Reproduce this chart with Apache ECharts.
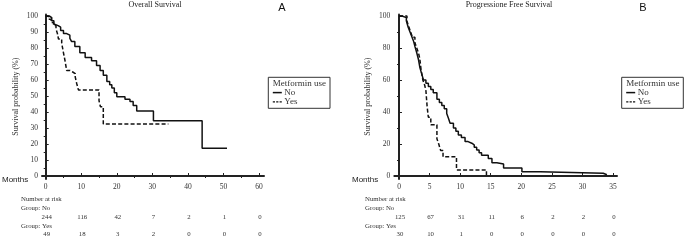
<!DOCTYPE html>
<html>
<head>
<meta charset="utf-8">
<script src="https://cdn.jsdelivr.net/npm/echarts@6/dist/echarts.min.js"></script>
<style>
html, body { margin: 0; background: #fff; }
#main { width: 685px; height: 240px; }
</style>
</head>
<body>
<div id="main"></div>
<script>
// Overall survival (panel A), Kaplan-Meier steps: month of drop / survival after it
var osMonthsNo = [0, 1, 1.7, 2.3, 2.8, 3.5, 4.2, 5, 5.9, 6.8, 7.3, 8.2, 9.6, 11.1, 12.9, 14.3, 15.3, 16.2, 17.2, 18, 18.6, 19.3, 20, 22.3, 23.7, 24.6, 25.6, 30.3, 44, 51];
var osSurvNo   = [100, 99, 97, 95, 94, 93, 91, 89, 88, 86, 84, 81, 77, 74, 72, 69, 66, 63, 59, 57, 55, 52, 49.5, 48, 46.5, 44, 40.6, 34.6, 17.3, 17.3];
var osMonthsYes = [0, 0.8, 1.5, 2.2, 2.9, 3.3, 3.6, 4.5, 5, 5.4, 5.9, 6.8, 7.6, 8.3, 8.7, 9.2, 15, 15.4, 16.2, 34.5];
var osSurvYes   = [100, 98, 96, 94, 92, 89, 85.6, 83, 77, 72.5, 66, 65, 64, 62, 58, 53.8, 47, 43.3, 32.5, 32.5];

// Progression free survival (panel B)
var pfsMonthsNo = [0, 0.5, 1.2, 1.5, 1.8, 2.1, 2.4, 2.6, 2.9, 3.2, 3.4, 3.7, 4, 4.4, 4.8, 5.2, 5.6, 6.2, 6.6, 7, 7.4, 7.8, 8.1, 8.35, 8.9, 9.3, 9.7, 10.2, 10.8, 11.3, 11.9, 12.3, 12.7, 13.1, 13.5, 14.6, 15.2, 16, 17.1, 20.1, 23.1, 33.4, 34];
var pfsSurvNo   = [100, 99, 97, 93, 90, 87, 84, 81, 77, 72.5, 68, 64, 60, 58, 56, 54, 52, 48, 46, 44, 42, 39, 36, 33, 30, 28, 25.6, 24, 21.5, 20.5, 19.4, 18, 16.3, 14.5, 13, 11, 8.3, 7.5, 5, 2.7, 1.7, 0.8, 0.8];
var pfsMonthsYes = [0, 1.3, 1.6, 1.9, 2.2, 2.6, 2.9, 3.2, 3.4, 3.6, 3.9, 4.2, 4.4, 4.6, 4.8, 5.2, 6.2, 6.5, 6.8, 7.2, 9.4, 14.3];
var pfsSurvYes   = [100, 96.7, 93.3, 90, 86.7, 83.3, 80, 76.7, 73.3, 66.7, 60, 56.7, 53.3, 43.3, 36.7, 32, 23.3, 20, 16, 12, 3.8, 0];

// axis ticks
var osTicksX = [0, 10, 20, 30, 40, 50, 60];
var osMinorX = [5, 15, 25, 35, 45, 55];
var osTicksY = [0, 10, 20, 30, 40, 50, 60, 70, 80, 90, 100];
var osMinorY = [5, 15, 25, 35, 45, 55, 65, 75, 85, 95];
var pfsTicksX = [0, 5, 10, 15, 20, 25, 30, 35];
var pfsTicksY = [0, 20, 40, 60, 80, 100];
var pfsMinorY = [10, 30, 50, 70, 90];

// number at risk
var osRiskNo  = [244, 116, 42, 7, 2, 1, 0];
var osRiskYes = [49, 18, 3, 2, 0, 0, 0];
var pfsRiskNo  = [125, 67, 31, 11, 6, 2, 2, 0];
var pfsRiskYes = [30, 10, 1, 0, 0, 0, 0, 0];

var serif = 'Liberation Serif';
var sans = 'Liberation Sans';
var ink = '#222';
var txt = '#333';

function pairs(t, s) {
    return t.map(function (v, i) { return [v, s[i]]; });
}

function xMain(grid, min, max, ticks) {
    return {
        gridIndex: grid, type: 'value', min: min, max: max,
        axisLine: { lineStyle: { color: ink, width: 2 } },
        axisTick: { inside: true, length: 3, customValues: ticks, lineStyle: { color: ink, width: 1 } },
        axisLabel: { customValues: ticks, fontFamily: serif, fontSize: 7.5, color: txt, margin: 4 },
        splitLine: { show: false }
    };
}
function yMain(grid, ticks) {
    return {
        gridIndex: grid, type: 'value', min: -1.875, max: 101,
        name: 'Survival probability (%)', nameLocation: 'middle', nameGap: 22,
        nameTextStyle: { fontFamily: serif, fontSize: 8, color: txt },
        axisLine: { lineStyle: { color: ink, width: 2 } },
        axisTick: { inside: true, length: 3, customValues: ticks, lineStyle: { color: ink, width: 1 } },
        axisLabel: { customValues: ticks, fontFamily: serif, fontSize: 7.5, color: txt, margin: 4 },
        splitLine: { show: false }
    };
}
function minorAxis(grid, min, max, ticks) {
    return {
        gridIndex: grid, type: 'value', min: min, max: max,
        axisLine: { show: false },
        axisTick: { show: ticks.length > 0, inside: true, length: 2, customValues: ticks, lineStyle: { color: ink, width: 1 } },
        axisLabel: { show: false },
        splitLine: { show: false }
    };
}
function km(name, data, xi, yi, dashed) {
    return {
        name: name, type: 'line', step: 'end', data: data,
        xAxisIndex: xi, yAxisIndex: yi,
        symbol: 'none', silent: true, animation: false,
        lineStyle: { color: '#111', width: 1.5, type: dashed ? [4, 2.2] : 'solid' }
    };
}

var chart = echarts.init(document.getElementById('main'));

var option = {
    animation: false,
    grid: [
        { left: 42, top: 14.4, width: 222, height: 164.6 },
        { left: 394.3, top: 14.4, width: 222.7, height: 164.6 }
    ],
    xAxis: [
        xMain(0, -1.04, 61.4, osTicksX),
        minorAxis(0, -1.04, 61.4, osMinorX),
        xMain(1, -0.77, 35.65, pfsTicksX),
        minorAxis(1, -0.77, 35.65, [])
    ],
    yAxis: [
        yMain(0, osTicksY),
        minorAxis(0, -1.875, 101, osMinorY),
        yMain(1, pfsTicksY),
        minorAxis(1, -1.875, 101, pfsMinorY)
    ],
    series: [
        km('No', pairs(osMonthsNo, osSurvNo), 0, 0, false),
        km('Yes', pairs(osMonthsYes, osSurvYes), 0, 0, true),
        km('No', pairs(pfsMonthsNo, pfsSurvNo), 2, 2, false),
        km('Yes', pairs(pfsMonthsYes, pfsSurvYes), 2, 2, true)
    ]
};
chart.setOption(option);

function label(x, y, text, font, color, align) {
    return {
        type: 'text', x: x, y: y, silent: true,
        style: { text: text, font: font, fill: color || txt, align: align || 'left', textAlign: align || 'left', verticalAlign: 'middle', textVerticalAlign: 'middle' }
    };
}
function legendBox(left, top, w, h) {
    return [
        { type: 'rect', shape: { x: left, y: top, width: w, height: h }, style: { fill: '#fff', stroke: '#333', lineWidth: 1 } },
        label(left + 4.5, top + 6.5, 'Metformin use', '9px ' + serif, '#333'),
        { type: 'line', shape: { x1: left + 4.5, y1: top + 15.3, x2: left + 13.5, y2: top + 15.3 }, style: { stroke: '#111', lineWidth: 1.5 } },
        label(left + 16, top + 15, 'No', '9px ' + serif, '#333'),
        { type: 'line', shape: { x1: left + 4.5, y1: top + 24.5, x2: left + 13.5, y2: top + 24.5 }, style: { stroke: '#111', lineWidth: 1.2, lineDash: [2.2, 1.2] } },
        label(left + 16, top + 24, 'Yes', '9px ' + serif, '#333')
    ];
}
function riskTable(xIdx, ticks, rNo, rYes, left) {
    var out = [
        label(left, 199, 'Number at risk', '6.8px ' + serif),
        label(left, 208, 'Group: No', '6.8px ' + serif),
        label(left, 226, 'Group: Yes', '6.8px ' + serif)
    ];
    ticks.forEach(function (m, i) {
        var x = chart.convertToPixel({ xAxisIndex: xIdx }, m) + 1;
        out.push(label(x, 217, String(rNo[i]), '6.8px ' + serif, txt, 'center'));
        out.push(label(x, 234, String(rYes[i]), '6.8px ' + serif, txt, 'center'));
    });
    return out;
}

var g = [];
g.push(label(155, 5, 'Overall Survival', '8px ' + serif, '#222', 'center'));
g.push(label(509, 5, 'Progressione Free Survival', '8px ' + serif, '#222', 'center'));
g.push(label(282, 8, 'A', '11px ' + sans, '#111', 'center'));
g.push(label(643, 8, 'B', '11px ' + sans, '#111', 'center'));
g.push(label(2, 180, 'Months', '8px ' + sans, '#222'));
g.push(label(352, 180, 'Months', '8px ' + sans, '#222'));
g = g.concat(legendBox(268.3, 77.3, 61.7, 31));
g = g.concat(legendBox(621.7, 77.3, 61.6, 31));
g = g.concat(riskTable(0, osTicksX, osRiskNo, osRiskYes, 21));
g = g.concat(riskTable(2, pfsTicksX, pfsRiskNo, pfsRiskYes, 365));

chart.setOption({ graphic: g });
</script>
</body>
</html>
